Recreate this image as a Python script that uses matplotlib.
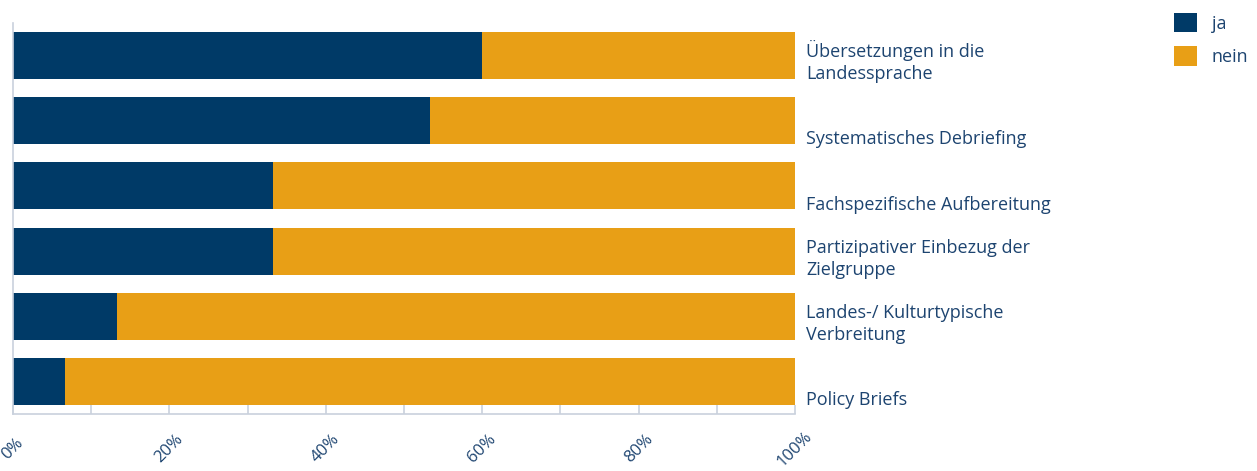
import matplotlib.pyplot as plt
from matplotlib.ticker import MultipleLocator, FuncFormatter

# survey shares (n = 15), top to bottom
categories = [
    "Übersetzungen in die\nLandessprache",
    "Systematisches Debriefing",
    "Fachspezifische Aufbereitung",
    "Partizipativer Einbezug der\nZielgruppe",
    "Landes-/ Kulturtypische\nVerbreitung",
    "Policy Briefs",
]
ja = [60.0, 53.3, 33.3, 33.3, 13.3, 6.7]
nein = [100 - v for v in ja]
series_labels = ["ja", "nein"]

navy = "#003a67"
orange = "#e89f16"
text_col = "#1d4470"
grid_col = "#c9d1dd"

plt.rcParams['font.family'] = ['Open Sans', 'DejaVu Sans']

fig = plt.figure(figsize=(12.57, 4.71), dpi=100)
ax = fig.add_axes([13 / 1257, 57 / 471, 782 / 1257, 391 / 471])

ypos = list(range(len(categories)))[::-1]
h = 0.72
ax.barh(ypos, ja, height=h, color=navy, label=series_labels[0])
ax.barh(ypos, nein, left=ja, height=h, color=orange, label=series_labels[1])

ax.set_xlim(0, 100)
ax.set_ylim(-0.5, len(categories) - 0.5)

# category labels right of the bars
for y, lab in zip(ypos, categories):
    ax.text(101.4, y - h / 2 - 0.065, lab, ha='left', va='bottom',
            fontsize=13, color=text_col, linespacing=1.3, clip_on=False)

ax.set_yticks([])
for s in ['top', 'right']:
    ax.spines[s].set_visible(False)
for s in ['left', 'bottom']:
    ax.spines[s].set_color(grid_col)
    ax.spines[s].set_linewidth(1.2)

ax.xaxis.set_major_locator(MultipleLocator(20))
ax.xaxis.set_minor_locator(MultipleLocator(10))
ax.xaxis.set_major_formatter(FuncFormatter(lambda v, p: f"{v:.0f}%"))
ax.tick_params(axis='x', which='both', direction='in', length=6.5,
               color=grid_col, width=1.2)
ax.tick_params(axis='x', which='major', pad=25, labelsize=12,
               labelcolor=text_col, labelrotation=45)
for t in ax.get_xticklabels():
    t.set_ha('center')
    t.set_va('center')

fig.legend(loc='upper right', bbox_to_anchor=(1.003, 1.0), frameon=False,
           fontsize=13, handlelength=1.3, handleheight=1.3,
           labelspacing=0.75, handletextpad=0.8, labelcolor=text_col,
           borderaxespad=0.3)

fig.savefig('out.png', dpi=100)
